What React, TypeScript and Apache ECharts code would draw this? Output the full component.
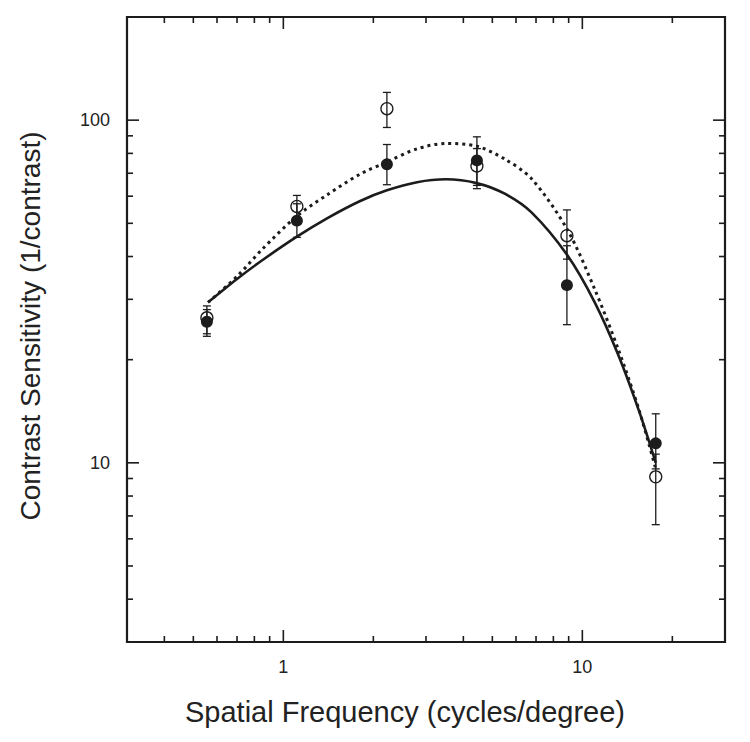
import React, { useEffect, useRef } from "react";
import * as echarts from "echarts";

// Axis tick labels and tick positions
const xTickLabels = [1, 10];
const yTickLabels = [10, 100];
const xMinorTicks = [0.4, 0.5, 0.6, 0.7, 0.8, 0.9, 2, 3, 4, 5, 6, 7, 8, 9, 20];
const yMinorTicks = [4, 5, 6, 7, 8, 9, 20, 30, 40, 50, 60, 70, 80, 90];

// Measured data (spatial frequency in cycles/degree)
const freqs = [0.555, 1.11, 2.22, 4.44, 8.88, 17.6];
const filledMean = [25.8, 50.9, 74.3, 76.3, 33.0, 11.4];
const filledLow = [23.4, 45.5, 64.8, 64.5, 25.3, 9.6];
const filledHigh = [28.0, 57.0, 84.9, 82.6, 43.0, 13.9];
const openMean = [26.5, 56.0, 108, 73.5, 46.0, 9.1];
const openLow = [23.8, 51.0, 95.2, 63.1, 39.3, 6.6];
const openHigh = [28.7, 60.3, 120.5, 89.4, 54.7, 10.6];

// Fitted curves
const fitFreqs = [0.56, 0.7, 0.85, 1.11, 1.4, 1.8, 2.22, 2.8, 3.5, 4.43, 5.5, 6.76, 8.9, 11, 13.2, 15.5, 17.6];
const solidFit = [29.4, 34.4, 39.0, 45.7, 51.7, 58.0, 62.4, 65.9, 67.2, 65.5, 61.0, 53.8, 40.4, 29.4, 20.6, 14.1, 10.0];
const dottedFit = [29.4, 35.0, 42.0, 52.5, 60.5, 69.5, 75.5, 82.5, 85.5, 84.0, 77.0, 67.5, 48.0, 32.1, 21.4, 14.2, 9.6];

const X_MIN = 0.3;
const X_MAX = 30;
const Y_MIN = 3;
const Y_MAX = 200;

const INK = "#1c1c1c";
const FONT = "'Liberation Sans', Arial, Helvetica, sans-serif";

function labelFor(list: number[]) {
  return (v: number) => {
    const hit = list.find((t) => Math.abs(v - t) < 1e-6 * t);
    return hit !== undefined ? String(hit) : "";
  };
}

export default function App() {
  const ref = useRef<HTMLDivElement>(null);

  useEffect(() => {
    if (!ref.current) return;
    const chart = echarts.init(ref.current, null, { renderer: "svg" });

    const xTickData = [
      ...xTickLabels.map((v) => [v, 10, 1]),
      ...xMinorTicks.map((v) => [v, 10, 0]),
    ];
    const yTickData = [
      ...yTickLabels.map((v) => [1, v, 1]),
      ...yMinorTicks.map((v) => [1, v, 0]),
    ];

    const errorBar = (low: number[], high: number[]) =>
      freqs.map((f, i) => [f, low[i], high[i]]);

    const renderErr = (params: any, api: any) => {
      const x = api.value(0);
      const p1 = api.coord([x, api.value(1)]);
      const p2 = api.coord([x, api.value(2)]);
      const hw = 4;
      const style = { stroke: INK, lineWidth: 1.3 };
      return {
        type: "group",
        children: [
          { type: "line", shape: { x1: p1[0], y1: p1[1], x2: p2[0], y2: p2[1] }, style },
          { type: "line", shape: { x1: p1[0] - hw, y1: p1[1], x2: p1[0] + hw, y2: p1[1] }, style },
          { type: "line", shape: { x1: p2[0] - hw, y1: p2[1], x2: p2[0] + hw, y2: p2[1] }, style },
        ],
      };
    };

    const option: any = {
      animation: false,
      backgroundColor: "#ffffff",
      grid: {
        left: 127,
        right: 25,
        top: 17,
        bottom: 100,
        show: true,
        borderColor: INK,
        borderWidth: 2.2,
        backgroundColor: "transparent",
      },
      xAxis: {
        type: "log",
        logBase: 10,
        min: X_MIN,
        max: X_MAX,
        axisLine: { show: false },
        axisTick: { show: false },
        splitLine: { show: false },
        axisLabel: {
          showMinLabel: false,
          showMaxLabel: false,
          formatter: labelFor(xTickLabels),
          fontSize: 18,
          fontFamily: FONT,
          color: "#222",
          margin: 16,
        },
      },
      yAxis: {
        type: "log",
        logBase: 10,
        min: Y_MIN,
        max: Y_MAX,
        axisLine: { show: false },
        axisTick: { show: false },
        splitLine: { show: false },
        axisLabel: {
          showMinLabel: false,
          showMaxLabel: false,
          formatter: labelFor(yTickLabels),
          fontSize: 18,
          fontFamily: FONT,
          color: "#222",
          margin: 17,
        },
      },
      graphic: [
        {
          type: "text",
          x: 405,
          y: 712,
          style: {
            text: "Spatial Frequency (cycles/degree)",
            fontSize: 29,
            fontFamily: FONT,
            fill: "#222",
            align: "center",
            verticalAlign: "middle",
          },
        },
        {
          type: "text",
          x: 30,
          y: 326,
          rotation: Math.PI / 2,
          style: {
            text: "Contrast Sensitivity (1/contrast)",
            fontSize: 28,
            fontFamily: FONT,
            fill: "#222",
            align: "center",
            verticalAlign: "middle",
          },
        },
      ],
      series: [
        {
          type: "custom",
          name: "xTicks",
          silent: true,
          clip: false,
          data: xTickData,
          renderItem: (params: any, api: any) => {
            const cs = params.coordSys;
            const x = api.coord([api.value(0), 10])[0];
            const len = api.value(2) ? 12 : 6;
            const style = { stroke: INK, lineWidth: 1.6 };
            const bottom = cs.y + cs.height;
            return {
              type: "group",
              children: [
                { type: "line", shape: { x1: x, y1: bottom, x2: x, y2: bottom - len }, style },
                { type: "line", shape: { x1: x, y1: cs.y, x2: x, y2: cs.y + len }, style },
              ],
            };
          },
        },
        {
          type: "custom",
          name: "yTicks",
          silent: true,
          clip: false,
          data: yTickData,
          renderItem: (params: any, api: any) => {
            const cs = params.coordSys;
            const y = api.coord([1, api.value(1)])[1];
            const len = api.value(2) ? 12 : 6;
            const style = { stroke: INK, lineWidth: 1.6 };
            const right = cs.x + cs.width;
            return {
              type: "group",
              children: [
                { type: "line", shape: { x1: cs.x, y1: y, x2: cs.x + len, y2: y }, style },
                { type: "line", shape: { x1: right, y1: y, x2: right - len, y2: y }, style },
              ],
            };
          },
        },
        {
          type: "custom",
          name: "openErr",
          silent: true,
          data: errorBar(openLow, openHigh),
          renderItem: renderErr,
          z: 2,
        },
        {
          type: "custom",
          name: "filledErr",
          silent: true,
          data: errorBar(filledLow, filledHigh),
          renderItem: renderErr,
          z: 2,
        },
        {
          type: "line",
          name: "solid fit",
          data: fitFreqs.map((f, i) => [f, solidFit[i]]),
          smooth: 0.3,
          showSymbol: false,
          lineStyle: { color: INK, width: 2.6, type: "solid" },
          z: 3,
        },
        {
          type: "line",
          name: "dotted fit",
          data: fitFreqs.map((f, i) => [f, dottedFit[i]]),
          smooth: 0.3,
          showSymbol: false,
          lineStyle: { color: INK, width: 3, type: [3, 4] },
          z: 3,
        },
        {
          type: "scatter",
          name: "filled",
          data: freqs.map((f, i) => [f, filledMean[i]]),
          symbol: "circle",
          symbolSize: 12,
          itemStyle: { color: INK, opacity: 1 },
          z: 4,
        },
        {
          type: "scatter",
          name: "open",
          data: freqs.map((f, i) => [f, openMean[i]]),
          symbol: "circle",
          symbolSize: 12,
          itemStyle: { color: "transparent", borderColor: INK, borderWidth: 1.3, opacity: 1 },
          z: 5,
        },
      ],
    };

    chart.setOption(option);
    return () => chart.dispose();
  }, []);

  return (
    <div
      ref={ref}
      style={{ position: "fixed", left: 0, top: 0, width: 750, height: 742, background: "#fff" }}
    />
  );
}
